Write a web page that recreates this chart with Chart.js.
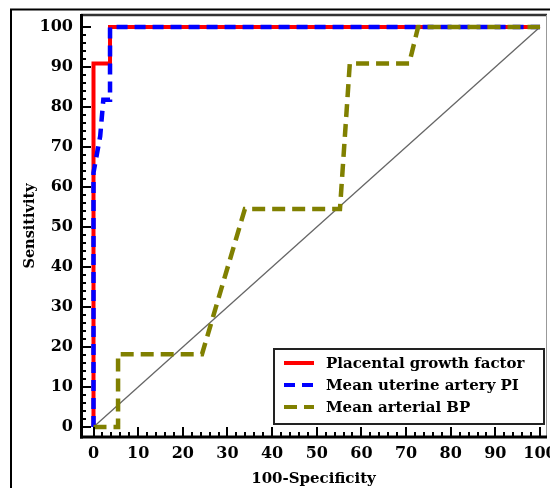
<!DOCTYPE html>
<html><head><meta charset="utf-8">
<script src="https://cdn.jsdelivr.net/npm/chart.js@4/dist/chart.umd.min.js"></script>
<style>html,body{margin:0;padding:0;background:#fff}#wrap{width:550px;height:488px}</style>
</head><body><div id="wrap"><canvas id="c" width="550" height="488"></canvas></div>
<script>
const seriesNames = ['Placental growth factor', 'Mean uterine artery PI', 'Mean arterial BP'];
const seriesColors = ['#ff0000', '#0000ff', '#808000'];
const pgfX = [0, 0, 3.7, 3.7, 100];
const pgfY = [0, 90.9, 90.9, 100, 100];
const utaX = [0, 0, 1.5, 2.2, 3.7, 3.7, 100];
const utaY = [0, 63.6, 72.7, 81.8, 81.8, 100, 100];
const mapX = [0, 5.5, 5.5, 24.3, 33.9, 55.2, 57.4, 70.7, 72.7, 100];
const mapY = [0, 0, 18.2, 18.2, 54.5, 54.5, 90.9, 90.9, 100, 100];
const refX = [0, 100];
const refY = [0, 100];
const xTicks = [0, 10, 20, 30, 40, 50, 60, 70, 80, 90, 100];
const yTicks = [0, 10, 20, 30, 40, 50, 60, 70, 80, 90, 100];
const xTitle = '100-Specificity';
const yTitle = 'Sensitivity';

const pts = (xs, ys) => xs.map((x, i) => ({x: x, y: ys[i]}));
const SERIF = "'DejaVu Serif', serif";

const framePlugin = {
  id: 'framePlugin',
  beforeDraw(chart) {
    const ctx = chart.ctx;
    ctx.save();
    ctx.fillStyle = '#fff';
    ctx.fillRect(0, 0, chart.width, chart.height);
    ctx.strokeStyle = '#000';
    ctx.lineWidth = 2;
    ctx.beginPath();
    ctx.moveTo(10, 9.5); ctx.lineTo(550, 9.5);
    ctx.moveTo(11, 9.5); ctx.lineTo(11, 488);
    ctx.stroke();
    ctx.restore();
  },
  afterDatasetsDraw(chart) {
    const ctx = chart.ctx;
    const a = chart.chartArea;
    const xs = chart.scales.x, ys = chart.scales.y;
    ctx.save();
    ctx.strokeStyle = '#333';
    ctx.lineWidth = 2.5;
    ctx.beginPath(); ctx.moveTo(a.left, a.top); ctx.lineTo(a.right + 1, a.top); ctx.stroke();
    ctx.strokeStyle = '#999';
    ctx.lineWidth = 1;
    ctx.beginPath(); ctx.moveTo(a.right + 0.5, a.top); ctx.lineTo(a.right + 0.5, a.bottom); ctx.stroke();
    ctx.strokeStyle = '#000';
    ctx.lineWidth = 2;
    ctx.beginPath();
    for (let v = 0; v <= 100; v += 2) {
      const major = v % 10 === 0;
      const len = major ? 10 : 5;
      const px = Math.round(xs.getPixelForValue(v));
      ctx.moveTo(px, a.bottom); ctx.lineTo(px, a.bottom - len);
      const py = Math.round(ys.getPixelForValue(v));
      ctx.moveTo(a.left, py); ctx.lineTo(a.left + len, py);
    }
    ctx.stroke();
    ctx.lineWidth = 3;
    ctx.beginPath();
    ctx.moveTo(a.left + 0.5, a.top - 1); ctx.lineTo(a.left + 0.5, a.bottom + 1.5);
    ctx.stroke();
    ctx.beginPath();
    ctx.moveTo(a.left - 1, a.bottom); ctx.lineTo(a.right + 1, a.bottom);
    ctx.stroke();
    ctx.restore();
  },
  afterDraw(chart) {
    const ctx = chart.ctx;
    ctx.save();
    const bx = 274, by = 349, bw = 270, bh = 75;
    ctx.fillStyle = '#fff';
    ctx.fillRect(bx, by, bw, bh);
    ctx.strokeStyle = '#222';
    ctx.lineWidth = 2;
    ctx.strokeRect(bx, by, bw, bh);
    const rows = [363, 385, 407];
    ctx.font = "bold 15px 'DejaVu Serif', serif";
    ctx.textBaseline = 'middle';
    ctx.fillStyle = '#000';
    chart.data.datasets.forEach((ds, i) => {
      if (i > 2) return;
      const y = rows[i];
      ctx.strokeStyle = ds.borderColor;
      ctx.lineWidth = 4;
      ctx.setLineDash(ds.borderDash || []);
      ctx.beginPath(); ctx.moveTo(284, y); ctx.lineTo(314, y); ctx.stroke();
      ctx.setLineDash([]);
      ctx.fillText(ds.label, 326, y + 1);
    });
    ctx.restore();
  }
};

new Chart(document.getElementById('c'), {
  type: 'line',
  data: {
    datasets: [
      {label: seriesNames[0], data: pts(pgfX, pgfY), borderColor: seriesColors[0], borderWidth: 4, order: 3},
      {label: seriesNames[1], data: pts(utaX, utaY), borderColor: seriesColors[1], borderWidth: 4.5, borderDash: [11, 7], order: 2},
      {label: seriesNames[2], data: pts(mapX, mapY), borderColor: seriesColors[2], borderWidth: 4.5, borderDash: [13, 7], order: 1},
      {label: 'ref', data: pts(refX, refY), borderColor: '#666', borderWidth: 1.3, order: 4}
    ]
  },
  options: {
    responsive: false,
    animation: false,
    devicePixelRatio: 1,
    layout: {padding: {top: 15, right: 4, left: 0, bottom: 0}},
    elements: {point: {radius: 0, hoverRadius: 0}, line: {tension: 0, borderCapStyle: 'butt', borderJoinStyle: 'miter', fill: false}},
    plugins: {legend: {display: false}, tooltip: {enabled: false}},
    scales: {
      x: {
        type: 'linear', min: -2.8, max: 101.34,
        afterBuildTicks: s => { s.ticks = xTicks.map(v => ({value: v})); },
        afterFit: s => { s.height = 51; s.paddingLeft = 0; s.paddingRight = 0; },
        grid: {display: false, drawTicks: false},
        border: {display: false},
        ticks: {font: {family: SERIF, weight: 'bold', size: 16}, color: '#000', padding: 7, maxRotation: 0, autoSkip: false},
        title: {display: true, text: xTitle, color: '#000', font: {family: SERIF, weight: 'bold', size: 15}, padding: {top: 0, bottom: 0}}
      },
      y: {
        type: 'linear', min: -2.5, max: 103,
        afterBuildTicks: s => { s.ticks = yTicks.map(v => ({value: v})); },
        afterFit: s => { s.width = 81; s.paddingTop = 0; s.paddingBottom = 0; },
        grid: {display: false, drawTicks: false},
        border: {display: false},
        ticks: {font: {family: SERIF, weight: 'bold', size: 16}, color: '#000', padding: 8, autoSkip: false},
        title: {display: true, text: yTitle, color: '#000', font: {family: SERIF, weight: 'bold', size: 14.5}, padding: {top: 22, bottom: 0}}
      }
    }
  },
  plugins: [framePlugin]
});
</script>
</body></html>
